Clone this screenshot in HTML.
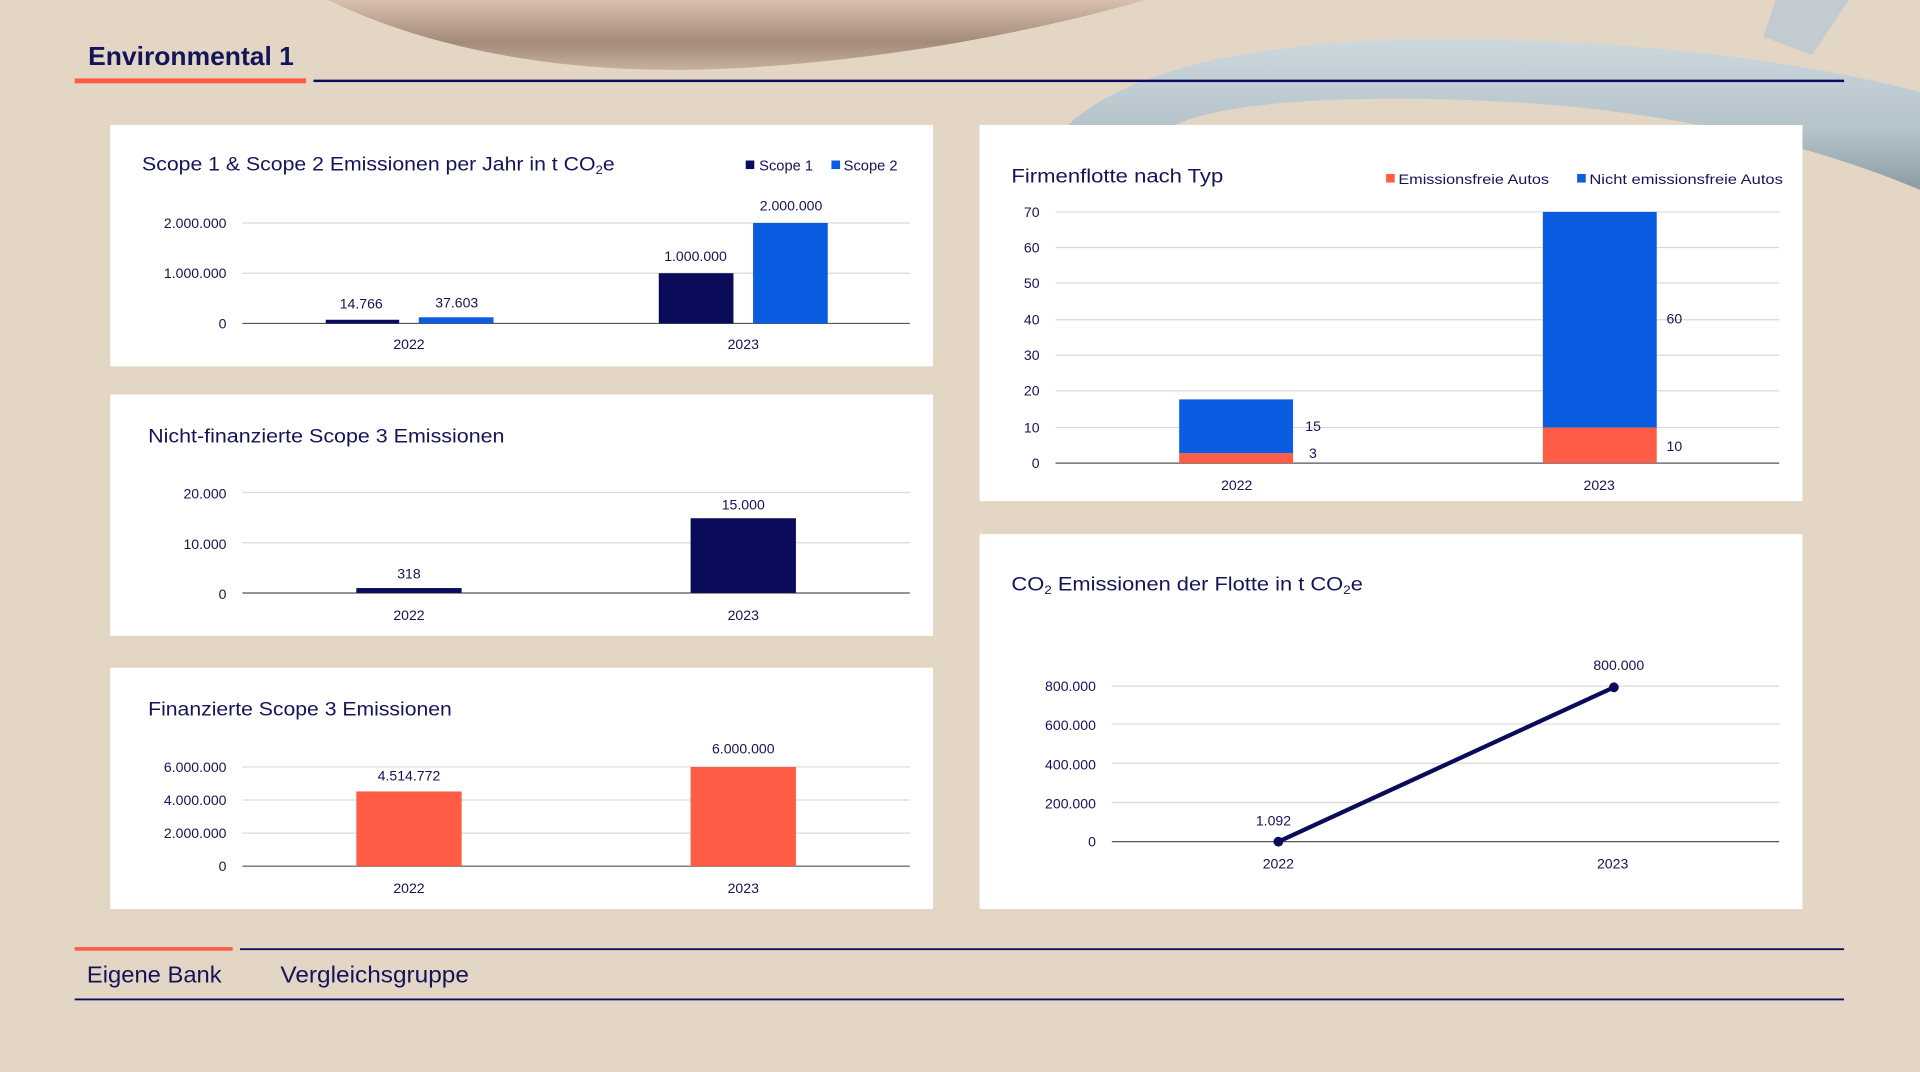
<!DOCTYPE html>
<html><head><meta charset="utf-8"><style>
html,body{margin:0;padding:0;background:#e4d6c5;overflow:hidden}
svg{display:block}
text{font-family:"Liberation Sans",sans-serif;fill:#14145a}
</style></head><body>
<svg width="1920" height="1072" viewBox="0 0 1568 875" preserveAspectRatio="none" xmlns="http://www.w3.org/2000/svg">
<defs>
<linearGradient id="br" x1="0" y1="0" x2="0" y2="1"><stop offset="0" stop-color="#d8bfae"/><stop offset="0.6" stop-color="#a48a78"/><stop offset="1" stop-color="#c7b09e"/></linearGradient>
<linearGradient id="bl" x1="0" y1="0" x2="0" y2="1"><stop offset="0" stop-color="#cdd8de"/><stop offset="0.6" stop-color="#b5c3ca"/><stop offset="1" stop-color="#8d9ba2"/></linearGradient>
</defs>
<rect width="1568" height="875" fill="#e4d6c5"/>
<path d="M268 0 C360 45 470 58 560 57 C700 55 850 25 935 0 Z" fill="url(#br)"/>
<path d="M872 102 C930 50 1050 30 1200 32 C1350 34 1470 50 1568 75 L1568 155 C1480 118 1380 95 1260 85 C1120 75 1000 82 960 102 Z" fill="url(#bl)"/>
<path d="M1450 0 L1510 0 L1480 45 L1440 30 Z" fill="#c2ccd0"/>
<text x="72" y="53" font-size="21" font-weight="bold" textLength="168" lengthAdjust="spacingAndGlyphs">Environmental 1</text>
<rect x="61" y="64" width="189" height="4" fill="#ff5c45"/>
<rect x="256" y="65" width="1250" height="2" fill="#0b0b5c"/>

<!-- Panel 1 -->
<rect x="90" y="102" width="672" height="197" fill="#fff"/>
<text x="116" y="139" font-size="16" textLength="386" lengthAdjust="spacingAndGlyphs">Scope 1 &amp; Scope 2 Emissionen per Jahr in t CO<tspan font-size="10" dy="3">2</tspan><tspan dy="-3">e</tspan></text>
<rect x="609" y="131" width="7" height="7" fill="#0b0b5c"/><text x="620" y="139" font-size="12">Scope 1</text>
<rect x="679" y="131" width="7" height="7" fill="#0a5ce0"/><text x="689" y="139" font-size="12">Scope 2</text>
<g stroke="#d9d9d9"><line x1="198" y1="182" x2="743" y2="182"/><line x1="198" y1="223" x2="743" y2="223"/></g>
<line x1="198" y1="264" x2="743" y2="264" stroke="#555"/>
<g font-size="11.5" text-anchor="end"><text x="185" y="186">2.000.000</text><text x="185" y="227">1.000.000</text><text x="185" y="268">0</text></g>
<rect x="266" y="261" width="60" height="3" fill="#0b0b5c"/><rect x="342" y="259" width="61" height="5" fill="#0a5ce0"/>
<rect x="538" y="223" width="61" height="41" fill="#0b0b5c"/><rect x="615" y="182" width="61" height="82" fill="#0a5ce0"/>
<g font-size="11.5" text-anchor="middle"><text x="295" y="252">14.766</text><text x="373" y="251">37.603</text><text x="568" y="213">1.000.000</text><text x="646" y="172">2.000.000</text>
<text x="334" y="285">2022</text><text x="607" y="285">2023</text></g>

<!-- Panel 2 -->
<rect x="90" y="322" width="672" height="197" fill="#fff"/>
<text x="121" y="361" font-size="16" textLength="291" lengthAdjust="spacingAndGlyphs">Nicht-finanzierte Scope 3 Emissionen</text>
<g stroke="#d9d9d9"><line x1="198" y1="402" x2="743" y2="402"/><line x1="198" y1="443" x2="743" y2="443"/></g>
<line x1="198" y1="484" x2="743" y2="484" stroke="#555"/>
<g font-size="11.5" text-anchor="end"><text x="185" y="407">20.000</text><text x="185" y="448">10.000</text><text x="185" y="489">0</text></g>
<rect x="291" y="480" width="86" height="4" fill="#0b0b5c"/><rect x="564" y="423" width="86" height="61" fill="#0b0b5c"/>
<g font-size="11.5" text-anchor="middle"><text x="334" y="472">318</text><text x="607" y="416">15.000</text><text x="334" y="506">2022</text><text x="607" y="506">2023</text></g>

<!-- Panel 3 -->
<rect x="90" y="545" width="672" height="197" fill="#fff"/>
<text x="121" y="584" font-size="16" textLength="248" lengthAdjust="spacingAndGlyphs">Finanzierte Scope 3 Emissionen</text>
<g stroke="#d9d9d9"><line x1="198" y1="626" x2="743" y2="626"/><line x1="198" y1="653" x2="743" y2="653"/><line x1="198" y1="680" x2="743" y2="680"/></g>
<line x1="198" y1="707" x2="743" y2="707" stroke="#555"/>
<g font-size="11.5" text-anchor="end"><text x="185" y="630">6.000.000</text><text x="185" y="657">4.000.000</text><text x="185" y="684">2.000.000</text><text x="185" y="711">0</text></g>
<rect x="291" y="646" width="86" height="61" fill="#ff5c45"/><rect x="564" y="626" width="86" height="81" fill="#ff5c45"/>
<g font-size="11.5" text-anchor="middle"><text x="334" y="637">4.514.772</text><text x="607" y="615">6.000.000</text><text x="334" y="729">2022</text><text x="607" y="729">2023</text></g>

<!-- Panel 4 -->
<rect x="800" y="102" width="672" height="307" fill="#fff"/>
<text x="826" y="149" font-size="16" textLength="173" lengthAdjust="spacingAndGlyphs">Firmenflotte nach Typ</text>
<rect x="1132" y="142" width="7" height="7" fill="#ff5c45"/><text x="1142" y="150" font-size="11.5" textLength="123" lengthAdjust="spacingAndGlyphs">Emissionsfreie Autos</text>
<rect x="1288" y="142" width="7" height="7" fill="#0a5ce0"/><text x="1298" y="150" font-size="11.5" textLength="158" lengthAdjust="spacingAndGlyphs">Nicht emissionsfreie Autos</text>
<g stroke="#d9d9d9"><line x1="862" y1="173" x2="1453" y2="173"/><line x1="862" y1="202" x2="1453" y2="202"/><line x1="862" y1="231" x2="1453" y2="231"/><line x1="862" y1="261" x2="1453" y2="261"/><line x1="862" y1="290" x2="1453" y2="290"/><line x1="862" y1="319" x2="1453" y2="319"/><line x1="862" y1="349" x2="1453" y2="349"/></g>
<line x1="862" y1="378" x2="1453" y2="378" stroke="#555"/>
<g font-size="11.5" text-anchor="end"><text x="849" y="177">70</text><text x="849" y="206">60</text><text x="849" y="235">50</text><text x="849" y="265">40</text><text x="849" y="294">30</text><text x="849" y="323">20</text><text x="849" y="353">10</text><text x="849" y="382">0</text></g>
<rect x="963" y="326" width="93" height="44" fill="#0a5ce0"/><rect x="963" y="370" width="93" height="8" fill="#ff5c45"/>
<rect x="1260" y="173" width="93" height="176" fill="#0a5ce0"/><rect x="1260" y="349" width="93" height="29" fill="#ff5c45"/>
<g font-size="11.5"><text x="1066" y="352">15</text><text x="1069" y="374">3</text><text x="1361" y="264">60</text><text x="1361" y="368">10</text></g>
<g font-size="11.5" text-anchor="middle"><text x="1010" y="400">2022</text><text x="1306" y="400">2023</text></g>

<!-- Panel 5 -->
<rect x="800" y="436" width="672" height="306" fill="#fff"/>
<text x="826" y="482" font-size="16" textLength="287" lengthAdjust="spacingAndGlyphs">CO<tspan font-size="10" dy="3">2</tspan><tspan dy="-3"> Emissionen der Flotte in t CO</tspan><tspan font-size="10" dy="3">2</tspan><tspan dy="-3">e</tspan></text>
<g stroke="#d9d9d9"><line x1="908" y1="560" x2="1453" y2="560"/><line x1="908" y1="591" x2="1453" y2="591"/><line x1="908" y1="623" x2="1453" y2="623"/><line x1="908" y1="655" x2="1453" y2="655"/></g>
<line x1="908" y1="687" x2="1453" y2="687" stroke="#555"/>
<g font-size="11.5" text-anchor="end"><text x="895" y="564">800.000</text><text x="895" y="596">600.000</text><text x="895" y="628">400.000</text><text x="895" y="660">200.000</text><text x="895" y="691">0</text></g>
<line x1="1044" y1="687" x2="1318" y2="561" stroke="#0b0b5c" stroke-width="3.5"/>
<circle cx="1044" cy="687" r="4" fill="#0b0b5c"/><circle cx="1318" cy="561" r="4" fill="#0b0b5c"/>
<g font-size="11.5" text-anchor="middle"><text x="1040" y="674">1.092</text><text x="1322" y="547">800.000</text><text x="1044" y="709">2022</text><text x="1317" y="709">2023</text></g>

<!-- Footer -->
<rect x="61" y="773" width="129" height="3" fill="#ff5c45"/>
<rect x="196" y="774" width="1310" height="1.5" fill="#0b0b5c"/>
<text x="71" y="802" font-size="18.5" textLength="110" lengthAdjust="spacingAndGlyphs">Eigene Bank</text>
<text x="229" y="802" font-size="18.5" textLength="154" lengthAdjust="spacingAndGlyphs">Vergleichsgruppe</text>
<rect x="61" y="815" width="1445" height="1.5" fill="#0b0b5c"/>
</svg>
</body></html>
